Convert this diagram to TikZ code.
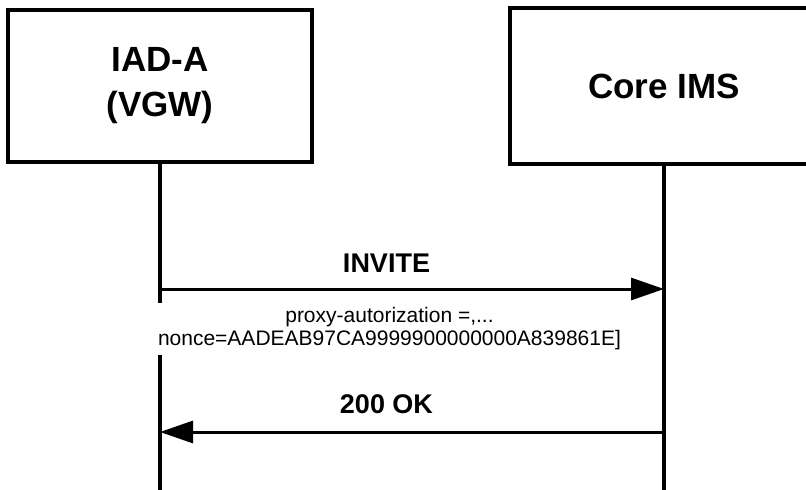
\documentclass[tikz,border=0pt]{standalone}
\usepackage{fontspec}
\setmainfont{Liberation Sans}
\usetikzlibrary{positioning,arrows.meta}
\tikzset{
  ent/.style={draw,line width=4pt,minimum width=304pt,minimum height=152pt,align=center,font=\fontsize{35}{45}\selectfont\bfseries},
  frame/.style={line width=4pt,line join=miter},
  life/.style={line width=4pt},
  msg/.style={line width=3pt,-{Triangle[length=33pt,width=22pt]}},
  mlab/.style={font=\fontsize{27}{32}\selectfont\bfseries,anchor=base},
  plab/.style={font=\fontsize{21}{23}\selectfont,align=center,fill=white,inner sep=5pt}
}

\begin{document}
\begin{tikzpicture}[x=1pt,y=-1pt]
  \useasboundingbox (0,0) rectangle (806,490); \clip (0,0) rectangle (806,490);
  \node[ent] (iad) at (160,86) {IAD-A\\(VGW)};
  \node[ent,draw=none] (ims) at (664,86) {Core IMS};
  % right box runs past the page edge
  \draw[frame] ([xshift=400pt]ims.north west) -| (ims.south west) -- ++(400pt,0);
  \coordinate (iadEnd) at (160,495); \coordinate (imsEnd) at (664,495);
  \draw[life] (iad) -- (iadEnd); \draw[life] (ims) -- (imsEnd);
  % INVITE
  \coordinate (invA) at (160,289); \coordinate (invB) at (664,289);
  \draw[msg] (invA) -- (invB);
  \node[mlab] (inv) at (386.5,272) {INVITE};
  \node[plab] (auth) at (389.5,329) {proxy-autorization =,...\\nonce=AADEAB97CA9999900000000A839861E]};
  % 200 OK
  \coordinate (okA) at (664,432); \coordinate (okB) at (160,432);
  \draw[msg] (okA) -- (okB);
  \node[mlab] (ok) at (386.5,413) {200 OK};
\end{tikzpicture}
\end{document}
